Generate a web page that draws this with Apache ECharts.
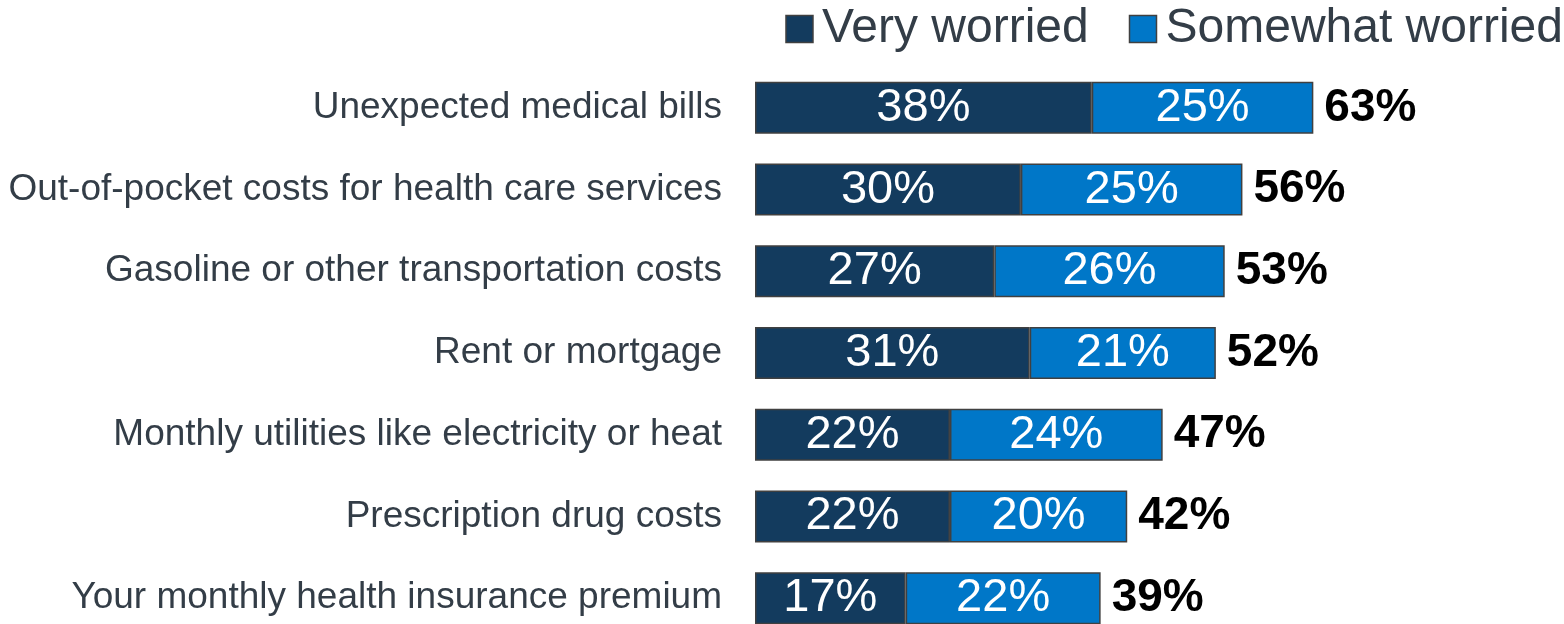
<!DOCTYPE html>
<html><head><meta charset="utf-8">
<script src="https://cdn.jsdelivr.net/npm/echarts@6/dist/echarts.min.js"></script>
<style>html,body{margin:0;padding:0;background:#fff}#c{width:1564px;height:624px}</style>
</head><body><div id="c"></div>
<script>
const categories = [
  "Unexpected medical bills",
  "Out-of-pocket costs for health care services",
  "Gasoline or other transportation costs",
  "Rent or mortgage",
  "Monthly utilities like electricity or heat",
  "Prescription drug costs",
  "Your monthly health insurance premium"
];
const veryWorried = [38, 30, 27, 31, 22, 22, 17];
const somewhatWorried = [25, 25, 26, 21, 24, 20, 22];
const totals = [63, 56, 53, 52, 47, 42, 39];
const seriesNames = ["Very worried", "Somewhat worried"];

const FONT = "'Liberation Sans', Arial, sans-serif";
const chart = echarts.init(document.getElementById('c'), null, {renderer: 'canvas'});
const inLabel = {show: true, position: 'inside', color: '#fff', fontSize: 47, fontFamily: FONT, formatter: p => p.value + '%'};
chart.setOption({
  animation: false,
  legend: {
    right: -4, top: 0, itemWidth: 27, itemHeight: 27, itemGap: 40, icon: 'rect',
    data: seriesNames,
    itemStyle: {borderColor: '#404040', borderWidth: 1.5},
    textStyle: {fontSize: 48, color: '#333D47', fontFamily: FONT, padding: [0, 0, 0, 4]}
  },
  grid: {left: 755, right: 100, top: 67, height: 572, outerBoundsMode: 'none', containLabel: false},
  xAxis: {type: 'value', min: 0, max: 80, show: false},
  yAxis: {
    type: 'category', data: categories, inverse: true,
    axisLine: {show: false}, axisTick: {show: false}, splitLine: {show: false},
    axisLabel: {fontSize: 37, color: '#333D47', fontFamily: FONT, margin: 33}
  },
  series: [
    {name: seriesNames[0], type: 'bar', stack: 's', data: veryWorried, barWidth: 52,
     itemStyle: {color: '#133B5E', borderColor: '#404040', borderWidth: 1.5}, label: inLabel},
    {name: seriesNames[1], type: 'bar', stack: 's', data: somewhatWorried, barWidth: 52,
     itemStyle: {color: '#0077C8', borderColor: '#404040', borderWidth: 1.5}, label: inLabel},
    {name: 'Total', type: 'bar', stack: 's', data: totals.map(() => 0), barWidth: 52,
     itemStyle: {color: 'transparent', borderWidth: 0},
     label: {show: true, position: 'right', distance: 11, color: '#000', fontWeight: 'bold', fontSize: 46, fontFamily: FONT,
             formatter: p => totals[p.dataIndex] + '%'}}
  ]
});
</script></body></html>
